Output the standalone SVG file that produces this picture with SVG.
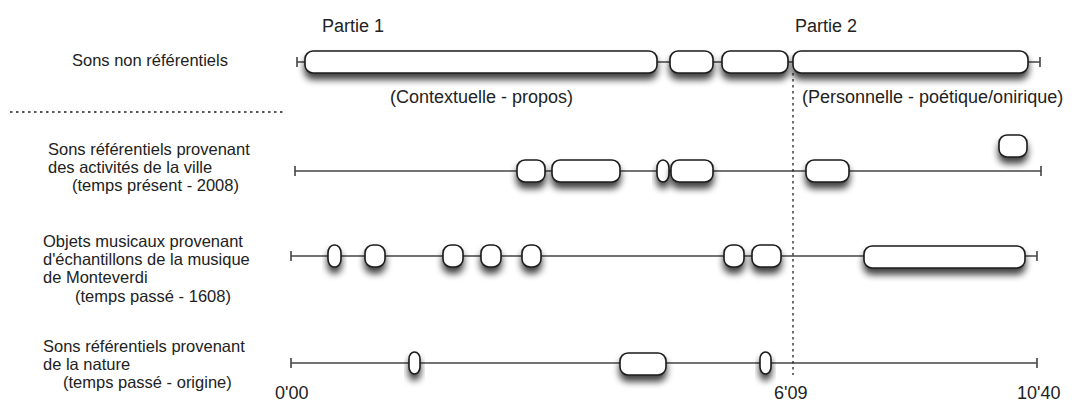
<svg xmlns="http://www.w3.org/2000/svg" width="1078" height="403" viewBox="0 0 1078 403">
<defs>
<filter id="sh" x="-40%" y="-60%" width="180%" height="280%">
<feGaussianBlur in="SourceAlpha" stdDeviation="3.5"/>
<feOffset dx="0" dy="6" result="b"/>
<feComponentTransfer><feFuncA type="linear" slope="0.75"/></feComponentTransfer>
<feMerge><feMergeNode/><feMergeNode in="SourceGraphic"/></feMerge>
</filter>
</defs>
<style>
.seg{fill:#fff;stroke:#1a1a1a;stroke-width:1.6;filter:url(#sh)}
.tl{stroke:#444;stroke-width:1.6;fill:none}
.tick{stroke:#444;stroke-width:1.6}
.dot{stroke:#222;stroke-width:1.3;stroke-dasharray:2.5 3.5;fill:none}
.lab{font-family:"Liberation Sans",Arial,sans-serif;font-size:16.5px;fill:#222}
.big{font-family:"Liberation Sans",Arial,sans-serif;font-size:18px;fill:#222}
</style>
<rect width="1078" height="403" fill="#fff"/>

<g id="connectors">
<line class="tl" x1="297" y1="62" x2="1040" y2="62"/>
<line class="tick" x1="297" y1="57" x2="297" y2="67"/>
<line class="tick" x1="1040" y1="57" x2="1040" y2="67"/>
<line class="tl" x1="295" y1="171" x2="1041" y2="171"/>
<line class="tick" x1="295" y1="166" x2="295" y2="176"/>
<line class="tick" x1="1041" y1="166" x2="1041" y2="176"/>
<line class="tl" x1="291" y1="256" x2="1037" y2="256"/>
<line class="tick" x1="291" y1="251" x2="291" y2="261"/>
<line class="tick" x1="1037" y1="251" x2="1037" y2="261"/>
<line class="tl" x1="291" y1="363" x2="1037" y2="363"/>
<line class="tick" x1="291" y1="358" x2="291" y2="368"/>
<line class="tick" x1="1037" y1="358" x2="1037" y2="368"/>
<line class="dot" x1="10" y1="112" x2="283" y2="112"/>
<line class="dot" x1="793" y1="73" x2="793" y2="375"/>
</g>

<g id="labels">
<text class="lab" x="72" y="66">Sons non référentiels</text>
<text class="lab" x="48" y="155">Sons référentiels provenant</text>
<text class="lab" x="48" y="173">des activités de la ville</text>
<text class="lab" x="72" y="191">(temps présent - 2008)</text>
<text class="lab" x="43" y="247">Objets musicaux provenant</text>
<text class="lab" x="43" y="265">d'échantillons de la musique</text>
<text class="lab" x="43" y="283">de Monteverdi</text>
<text class="lab" x="75" y="302">(temps passé - 1608)</text>
<text class="lab" x="43" y="352">Sons référentiels provenant</text>
<text class="lab" x="43" y="370">de la nature</text>
<text class="lab" x="63" y="388">(temps passé - origine)</text>
<text class="big" x="322" y="32">Partie 1</text>
<text class="big" x="795" y="32">Partie 2</text>
<text class="big" x="390" y="103">(Contextuelle - propos)</text>
<text class="big" x="802" y="103">(Personnelle - poétique/onirique)</text>
<text class="big" x="275" y="399">0'00</text>
<text class="big" x="774" y="399">6'09</text>
<text class="big" x="1017" y="399">10'40</text>
</g>

<g id="row1">
<rect id="n1a" class="seg" x="305" y="51" width="352" height="22" rx="8"/>
<rect id="n1b" class="seg" x="670" y="51" width="43" height="22" rx="8"/>
<rect id="n1c" class="seg" x="722" y="51" width="66" height="22" rx="8"/>
<rect id="n1d" class="seg" x="793" y="51" width="235" height="22" rx="8"/>
</g>

<g id="row2">
<rect id="n2a" class="seg" x="517" y="160" width="28" height="22" rx="8"/>
<rect id="n2b" class="seg" x="552" y="160" width="68" height="22" rx="8"/>
<rect id="n2c" class="seg" x="657" y="160" width="12" height="22" rx="6" ry="8"/>
<rect id="n2d" class="seg" x="671" y="160" width="42" height="22" rx="8"/>
<rect id="n2e" class="seg" x="806" y="160" width="43" height="22" rx="8"/>
<rect id="n2f" class="seg" x="999" y="135" width="28" height="22" rx="8"/>
</g>

<g id="row3">
<rect id="n3a" class="seg" x="328" y="245" width="13" height="22" rx="6" ry="8"/>
<rect id="n3b" class="seg" x="365" y="245" width="20" height="22" rx="8"/>
<rect id="n3c" class="seg" x="443" y="245" width="20" height="22" rx="8"/>
<rect id="n3d" class="seg" x="481" y="245" width="20" height="22" rx="8"/>
<rect id="n3e" class="seg" x="522" y="245" width="19" height="22" rx="8"/>
<rect id="n3f" class="seg" x="724" y="245" width="20" height="22" rx="8"/>
<rect id="n3g" class="seg" x="752" y="245" width="29" height="22" rx="8"/>
<rect id="n3h" class="seg" x="864" y="246" width="161" height="22" rx="8"/>
</g>

<g id="row4">
<rect id="n4a" class="seg" x="409" y="352" width="11" height="22" rx="5.5" ry="7"/>
<rect id="n4b" class="seg" x="620" y="353" width="46" height="22" rx="8"/>
<rect id="n4c" class="seg" x="760" y="352" width="11" height="22" rx="5.5" ry="7"/>
</g>
</svg>
